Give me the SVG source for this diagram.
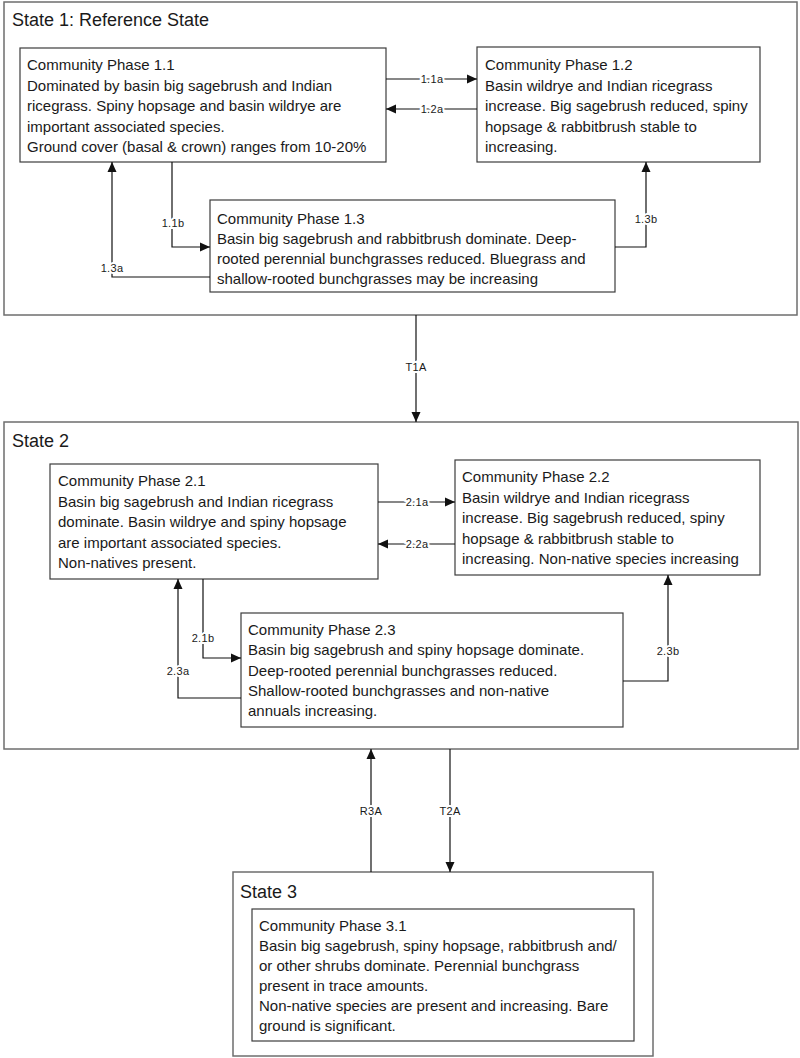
<svg xmlns="http://www.w3.org/2000/svg" width="800" height="1058" viewBox="0 0 800 1058">
<style>
.state{fill:#fff;stroke:#6e6e6e;stroke-width:1.5}
.phase{fill:#fff;stroke:#3c3c3c;stroke-width:1.2}
.t{font-family:"Liberation Sans",Arial,sans-serif;font-size:15px;fill:#1a1a1a}
.title{font-family:"Liberation Sans",Arial,sans-serif;font-size:18px;fill:#1a1a1a}
.lbl{font-family:"Liberation Sans",Arial,sans-serif;font-size:11px;letter-spacing:0.3px;fill:#1a1a1a;text-anchor:middle;stroke:#fff;stroke-width:4;paint-order:stroke}
.c{fill:none;stroke:#111;stroke-width:1.2;marker-end:url(#ah)}
</style>
<defs>
<marker id="ah" markerUnits="userSpaceOnUse" markerWidth="10" markerHeight="10" viewBox="0 0 10 10" refX="10" refY="5" orient="auto">
<path d="M0,0.5 L10,5 L0,9.5 z" fill="#111"/>
</marker>
</defs>
<rect width="800" height="1058" fill="#fff"/>

<g id="state1">
<rect class="state" x="4" y="2" width="793" height="313"/>
<text class="title" x="12" y="26">State 1: Reference State</text>
</g>
<g id="state2">
<rect class="state" x="4" y="422" width="794" height="327"/>
<text class="title" x="12" y="447">State 2</text>
</g>
<g id="state3">
<rect class="state" x="233" y="872" width="420" height="184"/>
<text class="title" x="240" y="898">State 3</text>
</g>

<g id="phase1_1">
<rect class="phase" x="20" y="48" width="366" height="114"/>
<text class="t" x="27" y="70">Community Phase 1.1</text>
<text class="t" x="27" y="90.5">Dominated by basin big sagebrush and Indian</text>
<text class="t" x="27" y="111">ricegrass. Spiny hopsage and basin wildrye are</text>
<text class="t" x="27" y="131.5">important associated species.</text>
<text class="t" x="27" y="152">Ground cover (basal &amp; crown) ranges from 10-20%</text>
</g>
<g id="phase1_2">
<rect class="phase" x="477" y="47" width="283" height="115"/>
<text class="t" x="485" y="70">Community Phase 1.2</text>
<text class="t" x="485" y="90.5">Basin wildrye and Indian ricegrass</text>
<text class="t" x="485" y="111">increase. Big sagebrush reduced, spiny</text>
<text class="t" x="485" y="131.5">hopsage &amp; rabbitbrush stable to</text>
<text class="t" x="485" y="152">increasing.</text>
</g>
<g id="phase1_3">
<rect class="phase" x="210" y="200" width="405" height="92"/>
<text class="t" x="217" y="224">Community Phase 1.3</text>
<text class="t" x="217" y="244">Basin big sagebrush and rabbitbrush dominate. Deep-</text>
<text class="t" x="217" y="264">rooted perennial bunchgrasses reduced. Bluegrass and</text>
<text class="t" x="217" y="284">shallow-rooted bunchgrasses may be increasing</text>
</g>
<g id="phase2_1">
<rect class="phase" x="50" y="464" width="328" height="115"/>
<text class="t" x="58" y="486">Community Phase 2.1</text>
<text class="t" x="58" y="506.5">Basin big sagebrush and Indian ricegrass</text>
<text class="t" x="58" y="527">dominate. Basin wildrye and spiny hopsage</text>
<text class="t" x="58" y="547.5">are important associated species.</text>
<text class="t" x="58" y="568">Non-natives present.</text>
</g>
<g id="phase2_2">
<rect class="phase" x="455" y="460" width="305" height="115"/>
<text class="t" x="462" y="482">Community Phase 2.2</text>
<text class="t" x="462" y="502.5">Basin wildrye and Indian ricegrass</text>
<text class="t" x="462" y="523">increase. Big sagebrush reduced, spiny</text>
<text class="t" x="462" y="543.5">hopsage &amp; rabbitbrush stable to</text>
<text class="t" x="462" y="564">increasing. Non-native species increasing</text>
</g>
<g id="phase2_3">
<rect class="phase" x="241" y="613" width="382" height="114"/>
<text class="t" x="248" y="635">Community Phase 2.3</text>
<text class="t" x="248" y="655">Basin big sagebrush and spiny hopsage dominate.</text>
<text class="t" x="248" y="675.5">Deep-rooted perennial bunchgrasses reduced.</text>
<text class="t" x="248" y="696">Shallow-rooted bunchgrasses and non-native</text>
<text class="t" x="248" y="716">annuals increasing.</text>
</g>
<g id="phase3_1">
<rect class="phase" x="252" y="909" width="382" height="132"/>
<text class="t" x="259" y="931">Community Phase 3.1</text>
<text class="t" x="259" y="951">Basin big sagebrush, spiny hopsage, rabbitbrush and/</text>
<text class="t" x="259" y="971">or other shrubs dominate. Perennial bunchgrass</text>
<text class="t" x="259" y="991">present in trace amounts.</text>
<text class="t" x="259" y="1011">Non-native species are present and increasing. Bare</text>
<text class="t" x="259" y="1031">ground is significant.</text>
</g>

<g id="connectors">
<path class="c" d="M386,79 H477"/>
<text class="lbl" x="432" y="83">1.1a</text>
<path class="c" d="M477,109 H386"/>
<text class="lbl" x="432" y="113">1.2a</text>
<path class="c" d="M172,162 V247 H210"/>
<text class="lbl" x="173" y="227">1.1b</text>
<path class="c" d="M210,277 H112 V162"/>
<text class="lbl" x="112" y="272">1.3a</text>
<path class="c" d="M615,247 H646 V162"/>
<text class="lbl" x="646" y="223">1.3b</text>
<path class="c" d="M416,315 V422"/>
<text class="lbl" x="416" y="371">T1A</text>

<path class="c" d="M378,502 H455"/>
<text class="lbl" x="417" y="506">2.1a</text>
<path class="c" d="M455,544 H378"/>
<text class="lbl" x="417" y="548">2.2a</text>
<path class="c" d="M203,579 V658 H241"/>
<text class="lbl" x="203" y="642">2.1b</text>
<path class="c" d="M241,698 H178 V579"/>
<text class="lbl" x="178" y="675">2.3a</text>
<path class="c" d="M623,681 H668 V575"/>
<text class="lbl" x="668" y="655">2.3b</text>

<path class="c" d="M371,872 V749"/>
<text class="lbl" x="371" y="815">R3A</text>
<path class="c" d="M450,749 V872"/>
<text class="lbl" x="450" y="815">T2A</text>
</g>
</svg>
